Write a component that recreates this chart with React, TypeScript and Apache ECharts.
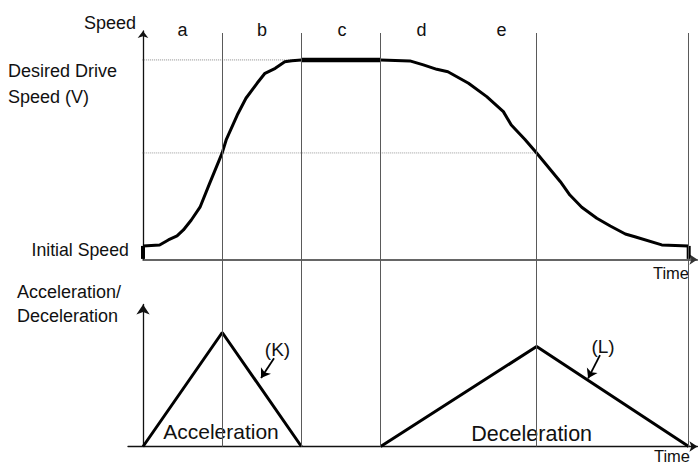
import React, { useEffect, useRef } from 'react';
import * as echarts from 'echarts';

// ---- data (time in arbitrary units, speed with desired drive speed V = 100) ----
const phaseBounds = [1, 2, 3, 4.97, 6.89];
const phaseLabels = ['a', 'b', 'c', 'd', 'e'];
const initialSpeed = 6.8;
const desiredSpeed = 100;
const midSpeed = 53.4;

const riseT = [0, 0.21, 0.32, 0.43, 0.51, 0.61, 0.72, 0.84, 1.0, 1.05, 1.19, 1.3, 1.44, 1.54, 1.67, 1.79, 1.88, 2.0];
const riseV = [6.8, 7.3, 9.8, 11.8, 14.8, 19.8, 26.2, 38, 53.4, 59.9, 72.4, 80.8, 88.3, 93.3, 95.8, 99.1, 99.6, 100];
const cruiseT = [2, 3];
const cruiseV = [100, 100];
const fallT = [3.0, 3.37, 3.54, 3.71, 3.85, 4.11, 4.34, 4.55, 4.65, 4.82, 4.97, 5.27, 5.39, 5.54, 5.73, 5.9, 6.09, 6.21, 6.55, 6.89];
const fallV = [100, 99.5, 97.5, 95.3, 94.1, 88.3, 81.6, 74.1, 67.4, 60.3, 53.4, 39, 32.3, 26.2, 20.7, 16.8, 12.8, 11.4, 7.3, 6.8];

const accelT = [0, 1, 2];
const accelA = [0, 57, 0];
const decelT = [3, 4.97, 6.89];
const decelA = [0, 50, 0];

const kArrow = [[1.654, 44.1], [1.49, 34.2]];
const lArrow = [[5.77, 45.7], [5.62, 34.1]];

const guideDesiredT = [-0.09, 3];
const guideMidT = [-0.06, 4.97];

const FONT = "Liberation Sans";

function zip(a: number[], b: number[]) {
  return a.map((v, i) => [v, b[i]]);
}

export default function App() {
  const ref = useRef<HTMLDivElement>(null);
  useEffect(() => {
    const chart = echarts.init(ref.current!, null, { renderer: 'svg' });
    const hiddenAxis = {
      axisLine: { show: false },
      axisTick: { show: false },
      axisLabel: { show: false },
      splitLine: { show: false },
    };
    const txt = (text: string, x: number, y: number, size: number, align = 'left') => ({
      type: 'text',
      x,
      y,
      silent: true,
      style: { text, fill: '#111', fontSize: size, fontFamily: FONT, align, verticalAlign: 'middle' },
    });
    const curve = (data: number[][], width: number, extra: any = {}) => ({
      type: 'line', xAxisIndex: 0, yAxisIndex: 0, data,
      showSymbol: false, clip: false, z: 3, silent: true,
      lineStyle: { color: '#000', width },
      ...extra,
    });
    const option: any = {
      animation: false,
      grid: [
        { left: 143, top: 31, width: 554.4, height: 228.5 },
        { left: 128, top: 304.5, width: 569.4, height: 142 },
        { left: 143, top: 33, width: 554.4, height: 413.5 },
      ],
      xAxis: [
        {
          type: 'value', gridIndex: 0, min: 0, max: 7,
          axisLine: { show: true, onZero: false, symbol: ['none', 'arrow'], symbolSize: [8, 8], lineStyle: { color: '#333', width: 1.5 } },
          axisTick: { show: false }, axisLabel: { show: false }, splitLine: { show: false },
        },
        {
          type: 'value', gridIndex: 1, min: -0.19, max: 7,
          axisLine: { show: true, onZero: false, symbol: ['none', 'arrow'], symbolSize: [8, 8], lineStyle: { color: '#111', width: 1.3 } },
          axisTick: { show: false }, axisLabel: { show: false }, splitLine: { show: false },
        },
        { type: 'value', gridIndex: 2, min: 0, max: 7, ...hiddenAxis },
      ],
      yAxis: [
        {
          type: 'value', gridIndex: 0, min: 0, max: 114.5,
          axisLine: { show: true, onZero: true, symbol: ['none', 'arrow'], symbolSize: [8, 7], lineStyle: { color: '#111', width: 1.3 } },
          axisTick: { show: false }, axisLabel: { show: false }, splitLine: { show: false },
        },
        {
          type: 'value', gridIndex: 1, min: 0, max: 71,
          axisLine: { show: true, onZero: true, symbol: ['none', 'arrow'], symbolSize: [10, 10], lineStyle: { color: '#111', width: 1.3 } },
          axisTick: { show: false }, axisLabel: { show: false }, splitLine: { show: false },
        },
        { type: 'value', gridIndex: 2, min: 0, max: 1, ...hiddenAxis },
      ],
      series: [
        {
          type: 'line', xAxisIndex: 2, yAxisIndex: 2, data: [[0, 0], [0, 0]],
          showSymbol: false, lineStyle: { opacity: 0 }, silent: true, z: 1,
          markLine: {
            silent: true, symbol: 'none', label: { show: false },
            lineStyle: { color: '#5a5a5a', width: 1, type: 'solid' },
            data: phaseBounds.map((x) => ({ xAxis: x })),
          },
        },
        {
          type: 'line', xAxisIndex: 0, yAxisIndex: 0,
          data: guideDesiredT.map((t) => [t, desiredSpeed]),
          showSymbol: false, clip: false, z: 2, silent: true,
          lineStyle: { color: '#8a8a8a', width: 1, type: [1, 1] },
        },
        {
          type: 'line', xAxisIndex: 0, yAxisIndex: 0,
          data: guideMidT.map((t) => [t, midSpeed]),
          showSymbol: false, clip: false, z: 2, silent: true,
          lineStyle: { color: '#9a9a9a', width: 1, type: [1, 1] },
        },
        curve(zip(riseT, riseV), 3),
        curve(zip(cruiseT, cruiseV), 4.5),
        curve(zip(fallT, fallV), 3),
        curve([[0, 0.3], [0, initialSpeed]], 4),
        curve([[phaseBounds[4], 0.3], [phaseBounds[4], initialSpeed]], 4),
        {
          type: 'line', xAxisIndex: 1, yAxisIndex: 1, data: zip(accelT, accelA),
          showSymbol: false, clip: false, z: 3, silent: true, lineStyle: { color: '#000', width: 3 },
          markLine: {
            silent: true, symbol: ['none', 'arrow'], symbolSize: 9, label: { show: false },
            lineStyle: { color: '#000', width: 1.8, type: 'solid' },
            data: [[{ coord: kArrow[0] }, { coord: kArrow[1] }]],
          },
        },
        {
          type: 'line', xAxisIndex: 1, yAxisIndex: 1, data: zip(decelT, decelA),
          showSymbol: false, clip: false, z: 3, silent: true, lineStyle: { color: '#000', width: 3 },
          markLine: {
            silent: true, symbol: ['none', 'arrow'], symbolSize: 9, label: { show: false },
            lineStyle: { color: '#000', width: 1.8, type: 'solid' },
            data: [[{ coord: lArrow[0] }, { coord: lArrow[1] }]],
          },
        },
      ],
      graphic: [
        txt('Speed', 136, 23, 18, 'right'),
        txt(phaseLabels[0], 182.5, 29.5, 18, 'center'),
        txt(phaseLabels[1], 262, 29.5, 18, 'center'),
        txt(phaseLabels[2], 342, 29.5, 18, 'center'),
        txt(phaseLabels[3], 421.5, 29.5, 18, 'center'),
        txt(phaseLabels[4], 501.5, 29.5, 18, 'center'),
        txt('Desired Drive', 8, 71, 18),
        txt('Speed (V)', 8, 96.5, 18),
        txt('Initial Speed', 31.5, 250, 17.7),
        txt('Time', 689, 272.5, 16.5, 'right'),
        txt('Acceleration/', 17, 291.7, 18),
        txt('Deceleration', 17, 315.5, 18),
        txt('(K)', 277.5, 349.5, 19, 'center'),
        txt('(L)', 603, 346.7, 19, 'center'),
        txt('Acceleration', 221, 431.7, 21, 'center'),
        txt('Deceleration', 531.7, 434, 21.5, 'center'),
        txt('Time', 690, 456, 16.5, 'right'),
      ],
    };
    chart.setOption(option);
    return () => chart.dispose();
  }, []);
  return <div ref={ref} style={{ position: 'fixed', left: 0, top: 0, width: 699, height: 466, background: '#fff' }} />;
}
